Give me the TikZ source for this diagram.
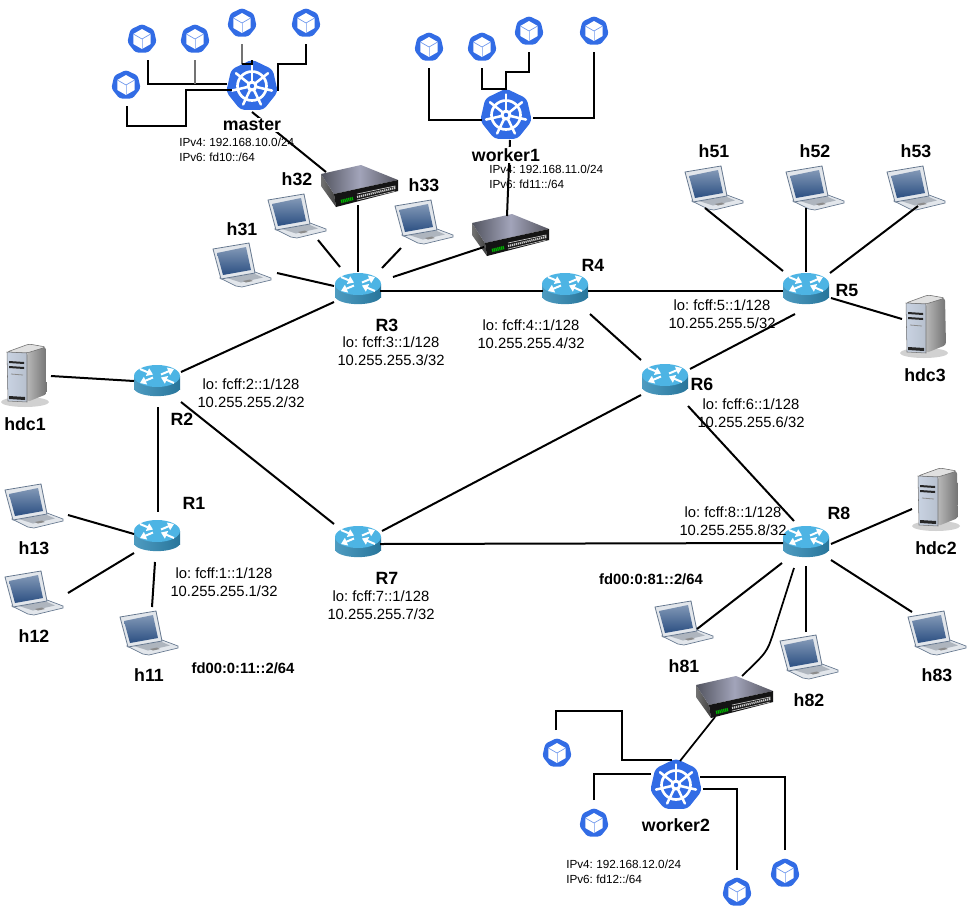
\documentclass[tikz,border=0pt]{standalone}
\usepackage{fontspec}
\setmainfont{Liberation Sans}
\usetikzlibrary{arrows.meta}
\definecolor{kblue}{HTML}{326CE5}
\definecolor{rtop}{HTML}{4DB4E4}
\definecolor{rside}{HTML}{2F8AB6}
\definecolor{scrtop}{HTML}{8298B6}
\definecolor{scrbot}{HTML}{2B4F82}
\definecolor{lapedge}{HTML}{66788F}
\definecolor{lapbody}{HTML}{E2E6EB}
\definecolor{lapkeys}{HTML}{AEB5BE}
\definecolor{swleft}{HTML}{52545F}
\definecolor{swmid}{HTML}{A2A4BA}
\definecolor{swright}{HTML}{55555F}
\definecolor{srvfront}{HTML}{C9D3E2}
\definecolor{srvfrontb}{HTML}{B7C0CE}
\tikzset{
  link/.style={line width=1.5pt,black},
  kwire/.style={line width=.9pt,black},
  gwire/.style={line width=1.4pt,black!55},
  hit/.style={inner sep=0pt,minimum size=0pt,shape=coordinate},
  lab/.style={font=\fontsize{13.3}{15}\selectfont\bfseries,inner sep=0pt},
  kname/.style={font=\fontsize{13.3}{15}\selectfont\bfseries,inner sep=1pt,fill=white},
  lolab/.style={font=\frenchspacing\fontsize{11.1}{13.9}\selectfont,align=center,inner sep=0pt},
  iplab/.style={font=\frenchspacing\fontsize{8.8}{10.9}\selectfont,align=left,anchor=west,inner sep=0pt},
  addr/.style={font=\frenchspacing\fontsize{11.1}{13}\selectfont\bfseries,inner sep=0pt},
  router/.pic={
    \shade[left color=rside!85!white,right color=rside!85!black] (-23,-6) rectangle (23,7);
    \shade[left color=rside!85!white,right color=rside!85!black] (-23,7) .. controls (-18,16.5) and (18,16.5) .. (23,7) -- cycle;
    \fill[rtop] (0,-6) ellipse [x radius=23,y radius=11];
    \begin{scope}[white,line width=1.5pt,-{Triangle[length=4.5pt,width=6pt]}]
      \draw (-17,-13) -- (-4,-7.5);
      \draw (4,-7.5) -- (17,-13);
      \draw (-4,-4.5) -- (-17,1);
      \draw (17,1) -- (4,-4.5);
    \end{scope}
  },
  laptop/.pic={
    \fill[lapbody,draw=lapedge,line width=.5pt] (-20,14) -- (15,8) -- (31,14) -- (31,16) -- (2,23) -- (-4,22) -- cycle;
    \fill[lapkeys] (-13,14) -- (14,9.5) -- (23,13.5) -- (1,18.5) -- cycle;
    \fill[black!45] (3,17) -- (10,15.5) -- (13,17) -- (6,18.5) -- cycle;
    \fill[lapbody,draw=lapedge,line width=.6pt] (-27,-15) -- (9,-21) -- (15,9) -- (-19,15) -- cycle;
    \shade[top color=scrtop,bottom color=scrbot] (-23,-11) -- (6,-17) -- (11,6) -- (-17,11) -- cycle;
  },
  server/.pic={
    \fill[black!18] (-1,27) ellipse [x radius=24,y radius=5];
    \shade[left color=black!28,right color=black!55,rounded corners=2pt] (1,-22) -- (20,-28) -- (21,19) -- (1,27) -- cycle;
    \fill[black!12,draw=black!60,line width=.4pt,rounded corners=2pt] (-19,-23) -- (3,-31) -- (20,-28) -- (1,-22) -- cycle;
    \shade[left color=srvfront,right color=srvfrontb,draw=black!55,line width=.4pt] (-19,-23) -- (1,-22) -- (1,27) -- (-18,26) -- cycle;
    \fill[black!85] (-17,-14) -- (-2,-13) -- (-2,-11) -- (-17,-12) -- cycle;
    \fill[black!85] (-17,-9) -- (-2,-8) -- (-2,-6) -- (-17,-7) -- cycle;
    \draw[black!45,line width=.6pt] (-15,-1) -- (-3,0);
    \fill[black!85] (-17,21) -- (-1,22) -- (-1,25) -- (-17,24) -- cycle;
  },
  netswitch/.pic={
    \shade[left color=black!55,right color=black!75] (-39,-12) -- (-26,8) -- (-24,21) -- (-39,0) -- cycle;
    \shade[left color=swleft,right color=swright,middle color=swmid] (-39,-12) -- (1,-21) -- (38,-6) -- (-26,8) -- cycle;
    \fill[black!92] (-26,8) -- (38,-6) -- (38,5) -- (-24,21) -- cycle;
    \draw[green!70!black,line width=2.6pt,dash pattern=on .9pt off .5pt] (-19,15.5) -- (-7,12.5);
    \draw[black!20,line width=.5pt] (-3,8) -- (35,0) -- (35,3);
    \draw[black!20,line width=1.6pt,dash pattern=on .9pt off .6pt] (-3,11) -- (35,2);
    \draw[black!25,line width=.5pt] (-3,14) -- (35,5);
  },
  kube/.pic={
    \fill[kblue,rounded corners=3pt] (270:26.5) -- (321.43:26.5) -- (12.86:26.5) -- (64.29:26.5) -- (115.71:26.5) -- (167.14:26.5) -- (218.57:26.5) -- cycle;
    \draw[white,line width=2pt] (0,0) circle [radius=14.5];
    \foreach \a in {270,321.43,12.86,64.29,115.71,167.14,218.57}{
      \draw[white,line width=1.9pt,line cap=round] (\a:4) -- (\a:20.5);
    }
    \fill[white] (0,0) circle [radius=5.5];
    \fill[kblue] (0,0) circle [radius=2.2];
  },
  podicon/.pic={
    \fill[kblue,rounded corners=2pt] (270:15) -- (321.43:15) -- (12.86:15) -- (64.29:15) -- (115.71:15) -- (167.14:15) -- (218.57:15) -- cycle;
    \fill[white] (270:10) -- (330:10) -- (30:10) -- (90:10) -- (150:10) -- (210:10) -- cycle;
    \draw[kblue!70,line width=.5pt] (210:10) -- (0,0) -- (330:10);
    \draw[kblue!45,line width=.6pt] (0,0) -- (90:10);
  }
}
\newcommand{\dev}[4]{\pic at (#3,#4) {#1}; \node[hit] (#2) at (#3,#4) {};}
\begin{document}
\begin{tikzpicture}[x=0.75pt,y=-0.75pt]
\useasboundingbox (0,0) rectangle (972,915);
\fill[white] (0,0) rectangle (972,915);
% routers
\dev{router}{R1}{157}{537}
\dev{router}{R2}{157}{382}
\dev{router}{R3}{358}{290}
\dev{router}{R4}{565}{290}
\dev{router}{R5}{806}{290}
\dev{router}{R6}{665}{381}
\dev{router}{R7}{358}{543}
\dev{router}{R8}{806}{543}
% hosts
\dev{laptop}{h11}{147}{632}
\dev{laptop}{h12}{32}{592}
\dev{laptop}{h13}{32}{505}
\dev{laptop}{h31}{240}{264}
\dev{laptop}{h32}{295}{215}
\dev{laptop}{h33}{422}{221}
\dev{laptop}{h51}{712}{187}
\dev{laptop}{h52}{813}{187}
\dev{laptop}{h53}{914}{187}
\dev{laptop}{h81}{682}{622}
\dev{laptop}{h82}{807}{656}
\dev{laptop}{h83}{935}{632}
% servers
\dev{server}{hdc1}{26}{375}
\dev{server}{hdc2}{937}{499}
\dev{server}{hdc3}{925}{326}
% switches
\dev{netswitch}{S1}{360}{186}
\dev{netswitch}{S2}{511}{235}
\dev{netswitch}{S3}{735}{697}
% kubernetes
\dev{kube}{K1}{252}{86}
\dev{kube}{K2}{506}{115}
\dev{kube}{K3}{676}{785}
\dev{podicon}{a1}{142}{39}
\dev{podicon}{a2}{195}{39}
\dev{podicon}{a3}{242}{23}
\dev{podicon}{a4}{306}{23}
\dev{podicon}{a0}{126}{85}
\dev{podicon}{b1}{429}{47}
\dev{podicon}{b2}{482}{47}
\dev{podicon}{b3}{529}{31}
\dev{podicon}{b4}{594}{31}
\dev{podicon}{c1}{557}{753}
\dev{podicon}{c2}{594}{823}
\dev{podicon}{c3}{785}{873}
\dev{podicon}{c4}{737}{892}
% router links
\draw[link] ([shift={(24,-10)}]R2.center) -- ([shift={(-24,12)}]R3.center);
\draw[link] ([shift={(22,1)}]R3.center) -- ([shift={(-22,1)}]R4.center);
\draw[link] ([shift={(23,1)}]R4.center) -- ([shift={(-23,1)}]R5.center);
\draw[link] ([shift={(25,24)}]R4.center) -- ([shift={(-24,-21)}]R6.center);
\draw[link] ([shift={(-11,24)}]R5.center) -- ([shift={(25,-12)}]R6.center);
\draw[link] ([shift={(-24,14)}]R6.center) -- ([shift={(24,-12)}]R7.center);
\draw[link] ([shift={(23,25)}]R6.center) -- ([shift={(-12,-22)}]R8.center);
\draw[link] ([shift={(22,1)}]R7.center) -- ([shift={(-23,0)}]R8.center);
\draw[link] ([shift={(24,20)}]R2.center) -- ([shift={(-24,-19)}]R7.center);
\draw[link] ([shift={(1,25)}]R2.center) -- ([shift={(1,-25)}]R1.center);
% host links
\draw[link] ([shift={(25,1)}]hdc1.center) -- ([shift={(-23,-1)}]R2.center);
\draw[link] ([shift={(36,10)}]h13.center) -- ([shift={(-23,-3)}]R1.center);
\draw[link] ([shift={(36,1)}]h12.center) -- ([shift={(-23,16)}]R1.center);
\draw[link] ([shift={(5,-25)}]h11.center) -- ([shift={(-2,25)}]R1.center);
\draw[link] ([shift={(37,9)}]h31.center) -- ([shift={(-24,-4)}]R3.center);
\draw[link] ([shift={(23,25)}]h32.center) -- ([shift={(-18,-23)}]R3.center);
\draw[link] ([shift={(-21,27)}]h33.center) -- ([shift={(24,-22)}]R3.center);
\draw[link] ([shift={(-7,21)}]h51.center) -- ([shift={(-23,-19)}]R5.center);
\draw[link] ([shift={(-7,21)}]h52.center) -- ([shift={(0,-18)}]R5.center);
\draw[link] ([shift={(4,19)}]h53.center) -- ([shift={(24,-17)}]R5.center);
\draw[link] ([shift={(-23,-7)}]hdc3.center) -- ([shift={(25,8)}]R5.center);
\draw[link] ([shift={(-25,10)}]hdc2.center) -- ([shift={(25,1)}]R8.center);
\draw[link] ([shift={(15,7)}]h81.center) -- ([shift={(-24,20)}]R8.center);
\draw[link] ([shift={(-1,-24)}]h82.center) -- ([shift={(0,23)}]R8.center);
\draw[link] ([shift={(-23,-20)}]h83.center) -- ([shift={(25,17)}]R8.center);
% switch links
\draw[link] ([shift={(0,-18)}]R3.center) -- ([shift={(-2,19)}]S1.center);
\draw[link] ([shift={(35,-13)}]R3.center) -- ([shift={(-27,12)}]S2.center);
\draw[link] ([shift={(0,26)}]K1.center) -- ([shift={(-34,-14)}]S1.center);
\draw[link] ([shift={(4,25)}]K2.center) -- ([shift={(-4,-19)}]S2.center);
\draw[link,line width=1.3pt] ([shift={(-12,25)}]R8.center) -- ([shift={(38,-63)}]S3.center) .. controls ([shift={(32,-45)}]S3.center) .. ([shift={(7,-21)}]S3.center);
\draw[link,line width=1.3pt] ([shift={(-20,20)}]S3.center) -- ([shift={(4,-24)}]K3.center);
% master pods
\draw[kwire] ([shift={(6,21)}]a1.center) |- ([shift={(-25,-2)}]K1.center);
\draw[gwire] ([shift={(0,21)}]a2.center) -- ([shift={(0,45)}]a2.center);
\draw[gwire] ([shift={(0,21)}]a3.center) -- ([shift={(0,41)}]a3.center);
\draw[kwire] ([shift={(0,41)}]a3.center) -| ([shift={(0,-26)}]K1.center);
\draw[kwire] ([shift={(0,21)}]a4.center) |- ([shift={(26,-22)}]K1.center) -- ([shift={(26,5)}]K1.center);
\draw[kwire] ([shift={(1,21)}]a0.center) -- ([shift={(1,41)}]a0.center) -- ([shift={(-66,40)}]K1.center) -- ([shift={(-66,4)}]K1.center) -- ([shift={(-20,4)}]K1.center);
% worker1 pods
\draw[kwire] ([shift={(0,21)}]b1.center) |- ([shift={(-24,5)}]K2.center);
\draw[kwire] ([shift={(0,21)}]b2.center) |- ([shift={(0,-26)}]K2.center);
\draw[kwire] ([shift={(0,21)}]b3.center) |- ([shift={(0,-43)}]K2.center) -- ([shift={(0,-25)}]K2.center);
\draw[kwire] ([shift={(0,21)}]b4.center) |- ([shift={(27,3)}]K2.center);
% worker2 pods
\draw[kwire] ([shift={(-1,-23)}]c1.center) |- ([shift={(-54,-74)}]K3.center) -- ([shift={(-54,-25)}]K3.center) -- ([shift={(-4,-25)}]K3.center);
\draw[kwire] ([shift={(0,-23)}]c2.center) |- ([shift={(-25,-11)}]K3.center);
\draw[kwire] ([shift={(0,-23)}]c3.center) |- ([shift={(24,-8)}]K3.center);
\draw[kwire] ([shift={(0,-22)}]c4.center) |- ([shift={(27,4)}]K3.center);
% names
\node[kname] (tm) at (252,125) {master};
\node[kname] (tw1) at (506,155) {worker1};
\node[kname] (tw2) at (676,825) {worker2};
\node[lab] (t1) at (194,503) {R1};
\node[lab] (t2) at (182,419) {R2};
\node[lab] (t3) at (387,325) {R3};
\node[lab] (t4) at (593,265) {R4};
\node[lab] (t5) at (847,290) {R5};
\node[lab] (t6) at (702,384) {R6};
\node[lab] (t7) at (387,578) {R7};
\node[lab] (t8) at (839,513) {R8};
\node[lab] (tdc1) at (25,424) {hdc1};
\node[lab] (tdc2) at (936,548) {hdc2};
\node[lab] (tdc3) at (925,375) {hdc3};
\node[lab] (t13) at (34,548) {h13};
\node[lab] (t12) at (34,636) {h12};
\node[lab] (t11) at (149,675) {h11};
\node[lab] (t31) at (242,229) {h31};
\node[lab] (t32) at (297,179) {h32};
\node[lab] (t33) at (424,185) {h33};
\node[lab] (t51) at (714,151) {h51};
\node[lab] (t52) at (815,151) {h52};
\node[lab] (t53) at (916,151) {h53};
\node[lab] (t81) at (684,666) {h81};
\node[lab] (t82) at (809,700) {h82};
\node[lab] (t83) at (937,675) {h83};
% loopbacks
\node[lolab] (l1) at (224,582) {lo: fcff:1::1/128\\10.255.255.1/32};
\node[lolab] (l2) at (251,393) {lo: fcff:2::1/128\\10.255.255.2/32};
\node[lolab] (l3) at (391,351) {lo: fcff:3::1/128\\10.255.255.3/32};
\node[lolab] (l4) at (531,334) {lo: fcff:4::1/128\\10.255.255.4/32};
\node[lolab] (l5) at (722,314) {lo: fcff:5::1/128\\10.255.255.5/32};
\node[lolab] (l6) at (751,413) {lo: fcff:6::1/128\\10.255.255.6/32};
\node[lolab] (l7) at (381,605) {lo: fcff:7::1/128\\10.255.255.7/32};
\node[lolab] (l8) at (733,521) {lo: fcff:8::1/128\\10.255.255.8/32};
% addresses
\node[iplab] (i1) at (179,150) {IPv4: 192.168.10.0/24\\IPv6: fd10::/64};
\node[iplab] (i2) at (489,177) {IPv4: 192.168.11.0/24\\IPv6: fd11::/64};
\node[iplab] (i3) at (566,872) {IPv4: 192.168.12.0/24\\IPv6: fd12::/64};
\node[addr] (f1) at (243,668) {fd00:0:11::2/64};
\node[addr] (f2) at (651,579) {fd00:0:81::2/64};
\end{tikzpicture}
\end{document}
